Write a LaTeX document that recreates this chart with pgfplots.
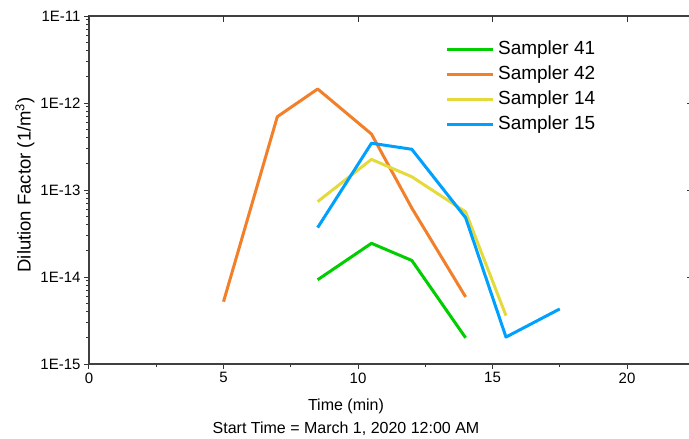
\documentclass[border=0pt]{standalone}
\usepackage{fontspec}
\setmainfont{Liberation Sans}
\usepackage{pgfplots}
\pgfplotsset{compat=1.18}
\definecolor{s41}{RGB}{0,206,0}
\definecolor{s42}{RGB}{242,128,42}
\definecolor{s14}{RGB}{228,218,60}
\definecolor{s15}{RGB}{0,160,255}

\begin{document}
\begin{tikzpicture}
\begin{axis}[
  at={(0,0)}, anchor=south west,
  scale only axis, width=601pt, height=348pt,
  xmin=0, xmax=22.34,
  ymode=log, ymin=1e-15, ymax=1e-11,
  xtick={0,5,10,15,20}, minor x tick num=1,
  ytick={1e-15,1e-14,1e-13,1e-12,1e-11},
  yticklabels={1E-15,1E-14,1E-13,1E-12,1E-11},
  minor ytick={2e-15,3e-15,4e-15,5e-15,6e-15,7e-15,8e-15,9e-15,
    2e-14,3e-14,4e-14,5e-14,6e-14,7e-14,8e-14,9e-14,
    2e-13,3e-13,4e-13,5e-13,6e-13,7e-13,8e-13,9e-13,
    2e-12,3e-12,4e-12,5e-12,6e-12,7e-12,8e-12,9e-12},
  xtick pos=bottom, ytick pos=left, tick align=outside,
  major tick length=5pt, minor tick length=3pt,
  every tick/.style={black!80, line width=1pt},
  axis line style={black!75, line width=1.3pt},
  tick label style={font=\fontsize{15}{15}\selectfont},
  /pgf/number format/assume math mode=true,
  extra x ticks={0,5,10,15,20}, extra x tick labels={},
  extra x tick style={xtick pos=top, tick align=inside, major tick length=6pt},
  extra y ticks={1e-14,1e-13,1e-12}, extra y tick labels={},
  extra y tick style={ytick pos=right, tick align=inside, major tick length=3pt, minor tick length=0pt},
  xlabel={Time (min)\\Start Time = March 1, 2020 12:00 AM},
  xlabel style={at={(axis description cs:0.4276,-0.1)}, anchor=north, align=center,
    inner sep=0pt, font=\fontsize{16}{23}\selectfont},
  ylabel={Dilution Factor (1/m\textsuperscript{3})},
  ylabel style={at={(axis description cs:-0.1065,0.515)}, anchor=center, rotate=0,
    font=\fontsize{18.5}{18.5}\selectfont},
  legend cell align=left,
  legend style={draw=none, fill=none, at={(axis description cs:0.588,0.947)}, anchor=north west,
    font=\fontsize{19}{19}\selectfont, row sep=0pt,
    nodes={text height=14pt, text depth=4pt, inner sep=3.5pt}},
  legend image code/.code={\draw[#1] (0pt,0pt) -- (46pt,0pt);},
  every axis plot/.append style={line width=3pt, line join=round},
  clip=false,
]
\addplot[s41] coordinates {(8.5,9.3e-15) (10.5,2.44e-14) (12,1.55e-14) (14,2.0e-15)};
\addlegendentry{Sampler 41}
\addplot[s42] coordinates {(5,5.2e-15) (7,6.96e-13) (8.5,1.45e-12) (10.5,4.4e-13) (12,6.2e-14) (14,5.9e-15)};
\addlegendentry{Sampler 42}
\addplot[s14] coordinates {(8.5,7.35e-14) (10.5,2.25e-13) (12,1.42e-13) (14,5.6e-14) (15.5,3.6e-15)};
\addlegendentry{Sampler 14}
\addplot[s15] coordinates {(8.5,3.7e-14) (10.5,3.45e-13) (12,2.94e-13) (14,4.8e-14) (15.5,2.04e-15) (17.5,4.3e-15)};
\addlegendentry{Sampler 15}
\end{axis}
\pgfresetboundingbox
\useasboundingbox (-89pt,-75pt) rectangle (600pt,364pt);
\end{tikzpicture}
\end{document}
